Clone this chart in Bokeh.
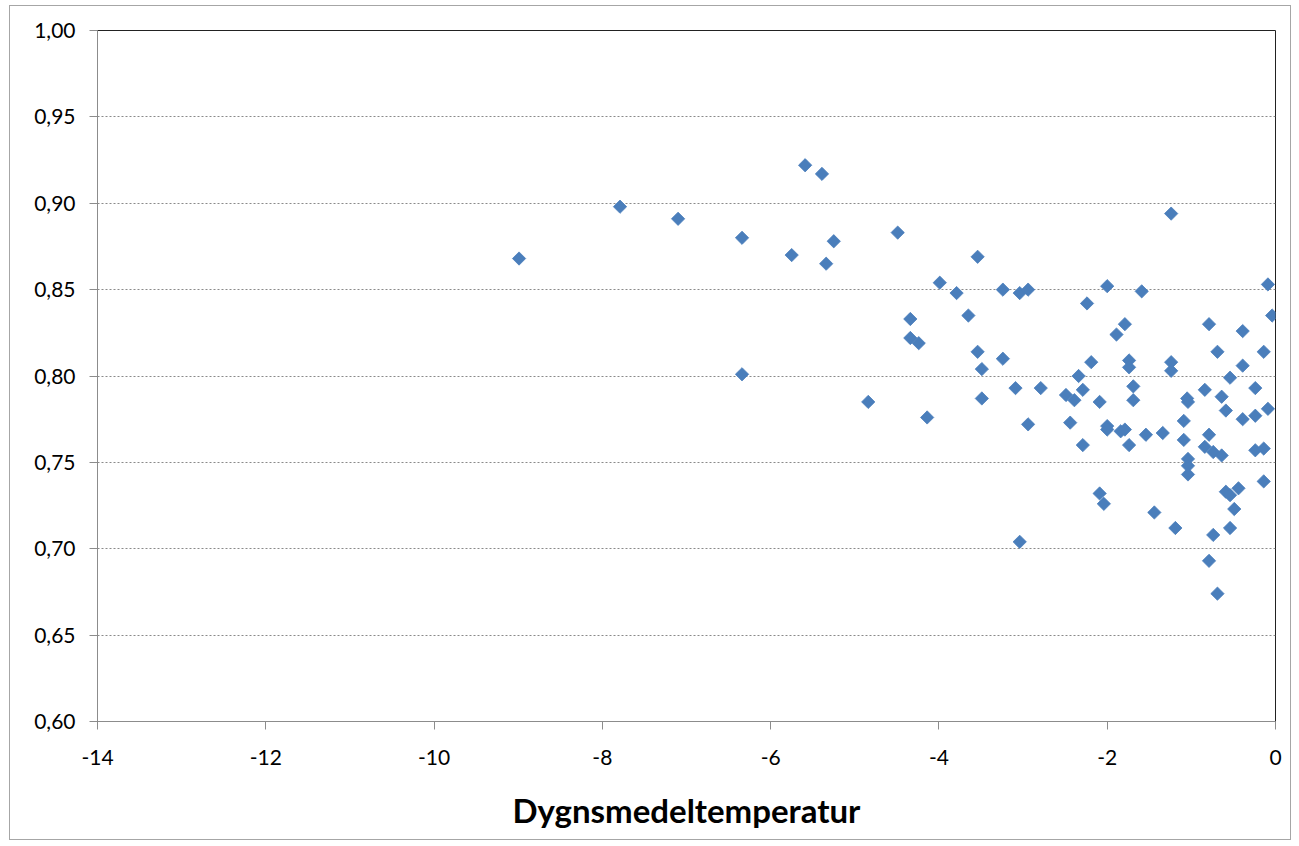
import math
from bokeh.plotting import figure
from bokeh.models import FixedTicker, CustomJSTickFormatter, Range1d
from bokeh.embed import file_html
from bokeh.resources import INLINE

temperature = [
    -8.99, -7.79, -7.10, -6.34, -6.34, -5.59, -5.39, -5.75, -5.34, -5.25,
    -4.84, -4.49, -4.34, -4.34, -4.24, -4.14, -3.99, -3.79, -3.65, -3.54,
    -3.54, -3.49, -3.49, -3.24, -3.24, -3.09, -3.04, -3.04, -2.94, -2.94,
    -2.79, -2.49, -2.44, -2.39, -2.34, -2.29, -2.29, -2.24, -2.19, -2.09,
    -2.09, -2.04, -2.00, -2.00, -2.00, -1.89, -1.84, -1.79, -1.79, -1.74,
    -1.74, -1.74, -1.69, -1.69, -1.59, -1.54, -1.44, -1.34, -1.24, -1.24,
    -1.24, -1.19, -1.09, -1.09, -1.05, -1.04, -1.04, -1.04, -1.04, -0.84,
    -0.84, -0.79, -0.79, -0.79, -0.74, -0.74, -0.69, -0.69, -0.64, -0.64,
    -0.59, -0.59, -0.54, -0.54, -0.54, -0.49, -0.44, -0.39, -0.39, -0.39,
    -0.24, -0.24, -0.24, -0.14, -0.14, -0.14, -0.09, -0.09, -0.04,
]
ratio = [
    0.868, 0.898, 0.891, 0.880, 0.801, 0.922, 0.917, 0.870, 0.865, 0.878,
    0.785, 0.883, 0.833, 0.822, 0.819, 0.776, 0.854, 0.848, 0.835, 0.869,
    0.814, 0.804, 0.787, 0.850, 0.810, 0.793, 0.848, 0.704, 0.850, 0.772,
    0.793, 0.789, 0.773, 0.786, 0.800, 0.792, 0.760, 0.842, 0.808, 0.785,
    0.732, 0.726, 0.852, 0.771, 0.769, 0.824, 0.768, 0.830, 0.769, 0.809,
    0.805, 0.760, 0.794, 0.786, 0.849, 0.766, 0.721, 0.767, 0.894, 0.808,
    0.803, 0.712, 0.774, 0.763, 0.787, 0.785, 0.752, 0.748, 0.743, 0.792,
    0.759, 0.830, 0.766, 0.693, 0.756, 0.708, 0.814, 0.674, 0.788, 0.754,
    0.780, 0.733, 0.799, 0.731, 0.712, 0.723, 0.735, 0.826, 0.806, 0.775,
    0.793, 0.777, 0.757, 0.814, 0.758, 0.739, 0.853, 0.781, 0.835,
]
x_ticks = [-14, -12, -10, -8, -6, -4, -2, 0]
y_ticks = [0.60, 0.65, 0.70, 0.75, 0.80, 0.85, 0.90, 0.95, 1.00]
x_label = "Dygnsmedeltemperatur"

FONT = "Lato"

p = figure(
    output_backend="svg", toolbar_location=None,
    frame_width=1178, frame_height=691,
    min_border_left=87, min_border_top=24, min_border_right=15, min_border_bottom=118,
    x_range=Range1d(-14, 0), y_range=Range1d(0.60, 1.00),
    margin=(5, 0, 0, 9),
)
p.styles = {"border": "1px solid #a6a6a6"}
p.background_fill_color = "white"
p.border_fill_color = "white"
p.outline_line_color = "#222222"
p.outline_line_width = 1

p.scatter(temperature, ratio, marker="square", size=9.4, angle=math.pi / 4,
          fill_color="#4a7ebb", line_color="#4a7ebb", line_width=0.8)

p.xgrid.visible = False
p.ygrid.ticker = FixedTicker(ticks=y_ticks)
p.ygrid.grid_line_color = "#8a8a8a"
p.ygrid.grid_line_dash = "2 2"
p.ygrid.grid_line_width = 1

p.xaxis.ticker = FixedTicker(ticks=x_ticks)
p.yaxis.ticker = FixedTicker(ticks=y_ticks)
p.xaxis.formatter = CustomJSTickFormatter(code="return tick.toFixed(0);")
p.yaxis.formatter = CustomJSTickFormatter(code="return tick.toFixed(2).replace('.', ',');")

for ax in (p.xaxis[0], p.yaxis[0]):
    ax.axis_line_color = "#8c8c8c"
    ax.major_tick_line_color = "#8c8c8c"
    ax.major_tick_out = 8
    ax.major_tick_in = 0
    ax.minor_tick_out = 0
    ax.minor_tick_in = 0
    ax.major_label_text_font = FONT
    ax.major_label_text_font_size = "21px"
    ax.major_label_text_color = "#000000"

p.yaxis.major_label_standoff = 14
p.xaxis.major_label_standoff = 20

p.xaxis.axis_label = x_label
p.xaxis.axis_label_text_font = FONT
p.xaxis.axis_label_text_font_style = "bold"
p.xaxis.axis_label_text_font_size = "33px"
p.xaxis.axis_label_text_color = "#000000"
p.xaxis.axis_label_standoff = 22

open("out.html", "w").write(file_html(p, INLINE))
